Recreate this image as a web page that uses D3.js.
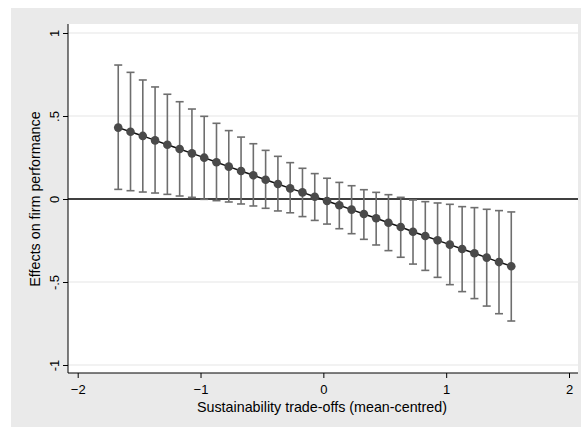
<!DOCTYPE html>
<html>
<head>
<meta charset="utf-8">
<script src="https://cdn.jsdelivr.net/npm/d3@7"></script>
<style>
  body { margin: 0; background: #fff; }
  svg { display: block; font-family: "Liberation Sans", Arial, sans-serif; }
</style>
</head>
<body>
<svg id="chart" width="581" height="427"></svg>
<script>
// Marginal effects
const xValues = [-1.67, -1.57, -1.47, -1.37, -1.27, -1.17, -1.07, -0.97, -0.87, -0.77, -0.67,
  -0.57, -0.47, -0.37, -0.27, -0.17, -0.07, 0.03, 0.13, 0.23, 0.33, 0.43, 0.53, 0.63,
  0.73, 0.83, 0.93, 1.03, 1.13, 1.23, 1.33, 1.43, 1.53];
const effects = [0.430, 0.405, 0.380, 0.353, 0.327, 0.301, 0.275, 0.249, 0.221, 0.195, 0.169,
  0.143, 0.116, 0.090, 0.064, 0.040, 0.014, -0.012, -0.038, -0.064, -0.090, -0.116, -0.143,
  -0.169, -0.197, -0.223, -0.249, -0.275, -0.301, -0.327, -0.353, -0.380, -0.405];
const upper = [0.807, 0.763, 0.717, 0.675, 0.631, 0.586, 0.542, 0.498, 0.456, 0.412, 0.373,
  0.333, 0.293, 0.257, 0.219, 0.185, 0.153, 0.125, 0.100, 0.080, 0.056, 0.040, 0.026,
  0.010, -0.006, -0.016, -0.024, -0.032, -0.046, -0.052, -0.062, -0.070, -0.078];
const lower = [0.058, 0.050, 0.042, 0.036, 0.028, 0.018, 0.010, -0.002, -0.010, -0.018, -0.030,
  -0.042, -0.056, -0.072, -0.083, -0.106, -0.129, -0.151, -0.179, -0.209, -0.243, -0.277, -0.311,
  -0.351, -0.392, -0.430, -0.472, -0.516, -0.558, -0.600, -0.645, -0.691, -0.735];
const xTicks = [-2, -1, 0, 1, 2];
const yTicks = [-1, -0.5, 0, 0.5, 1];
const yTickLabels = ["-1", "-.5", "0", ".5", "1"];

const svg = d3.select("#chart");
const FONT = "Liberation Sans, Arial, sans-serif";

// outer grey panel and white plot region
svg.append("rect").attr("x", 11).attr("y", 8).attr("width", 570).attr("height", 419).attr("fill", "#eaeaea");
const plot = { left: 68, right: 578, top: 24, bottom: 373 };
svg.append("rect")
  .attr("x", plot.left).attr("y", plot.top)
  .attr("width", plot.right - plot.left).attr("height", plot.bottom - plot.top)
  .attr("fill", "#fff");

const x = d3.scaleLinear().domain([-2, 2]).range([77.7, 569]);
const y = d3.scaleLinear().domain([-1, 1]).range([365, 33]);

// horizontal gridlines
svg.append("g").selectAll("line")
  .data(yTicks.filter(d => d !== 0))
  .join("line")
  .attr("x1", plot.left).attr("x2", plot.right)
  .attr("y1", d => y(d)).attr("y2", d => y(d))
  .attr("stroke", "#e6e6e6").attr("stroke-width", 1.2);

// reference line at zero
svg.append("line")
  .attr("x1", plot.left).attr("x2", plot.right)
  .attr("y1", y(0)).attr("y2", y(0))
  .attr("stroke", "#000").attr("stroke-width", 1.3);

// axes
const yAxis = svg.append("g")
  .attr("transform", `translate(${plot.left},0)`)
  .call(d3.axisLeft(y).tickValues(yTicks).tickSize(5).tickFormat((d, i) => yTickLabels[i]));
yAxis.select(".domain").attr("d", `M0,${plot.top}V${plot.bottom}`).attr("stroke", "#000");
yAxis.selectAll(".tick line").attr("stroke", "#000");
yAxis.selectAll(".tick text")
  .attr("x", 0).attr("dy", 0)
  .attr("transform", "translate(-9,0) rotate(-90)")
  .attr("text-anchor", "middle")
  .attr("font-size", 13).attr("fill", "#000")
  .attr("font-family", FONT);

const xAxis = svg.append("g")
  .attr("transform", `translate(0,${plot.bottom})`)
  .call(d3.axisBottom(x).tickValues(xTicks).tickSize(5).tickFormat(d3.format("d")));
xAxis.select(".domain").attr("d", `M${plot.left},0H${plot.right}`).attr("stroke", "#000");
xAxis.selectAll(".tick line").attr("stroke", "#000");
xAxis.selectAll(".tick text")
  .attr("y", 12).attr("font-size", 13).attr("fill", "#000")
  .attr("font-family", FONT);

// axis titles
svg.append("text")
  .attr("x", 322).attr("y", 412)
  .attr("text-anchor", "middle").attr("font-size", 14.3)
  .text("Sustainability trade-offs (mean-centred)");
svg.append("text")
  .attr("transform", `translate(40,${y(0)}) rotate(-90)`)
  .attr("text-anchor", "middle").attr("font-size", 14.3)
  .text("Effects on firm performance");

const pts = xValues.map((v, i) => ({ x: v, est: effects[i], hi: upper[i], lo: lower[i] }));

// confidence intervals with caps
const ci = svg.append("g").attr("stroke", "#6e6e6e").attr("stroke-width", 1.6);
ci.selectAll(".bar").data(pts).join("line")
  .attr("x1", d => x(d.x)).attr("x2", d => x(d.x))
  .attr("y1", d => y(d.hi)).attr("y2", d => y(d.lo));
ci.selectAll(".capHi").data(pts).join("line").attr("class", "capHi")
  .attr("x1", d => x(d.x) - 4).attr("x2", d => x(d.x) + 4)
  .attr("y1", d => y(d.hi)).attr("y2", d => y(d.hi));
ci.selectAll(".capLo").data(pts).join("line").attr("class", "capLo")
  .attr("x1", d => x(d.x) - 4).attr("x2", d => x(d.x) + 4)
  .attr("y1", d => y(d.lo)).attr("y2", d => y(d.lo));

// connecting line and markers
svg.append("path")
  .datum(pts)
  .attr("fill", "none").attr("stroke", "#111").attr("stroke-width", 1.5)
  .attr("d", d3.line().x(d => x(d.x)).y(d => y(d.est)));
svg.append("g").selectAll("circle").data(pts).join("circle")
  .attr("cx", d => x(d.x)).attr("cy", d => y(d.est)).attr("r", 4.3)
  .attr("fill", "#4a4a4a");
</script>
</body>
</html>
